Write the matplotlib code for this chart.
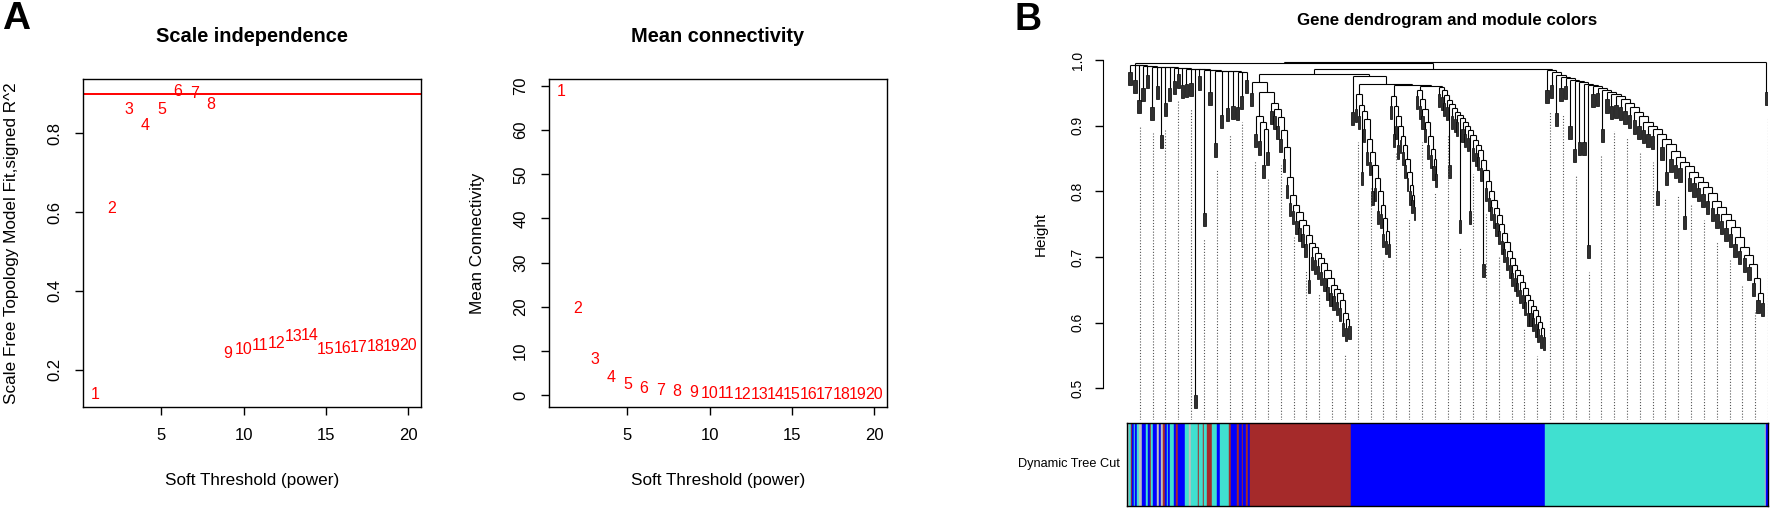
import matplotlib
matplotlib.use("Agg")
import matplotlib.pyplot as plt
from matplotlib.patches import Rectangle
import numpy as np

plt.rcParams["font.family"] = ["Liberation Sans", "DejaVu Sans"]

# ---------------- panel A: soft threshold scan ----------------
powers = list(range(1, 21))
sft_r2 = [0.136, 0.609, 0.861, 0.821, 0.860, 0.907, 0.901, 0.874, 0.242, 0.251,
          0.260, 0.267, 0.283, 0.287, 0.251, 0.253, 0.256, 0.258, 0.259, 0.262]
mean_k = [68.7, 19.5, 8.0, 4.0, 2.4, 1.5, 1.1, 0.75, 0.5, 0.35,
          0.25, 0.2, 0.15, 0.12, 0.1, 0.08, 0.06, 0.05, 0.04, 0.03]
r2_cut = 0.9

# ---------------- panel B: gene dendrogram (heights) ----------------
# staircase branches: join heights (top -> bottom) and the merge height of the
# small clusters hanging off each step, plus cluster sizes
mixed_joins = [0.993, 0.992, 0.992, 0.991, 0.991, 0.990, 0.990, 0.990, 0.989, 0.989,
               0.988, 0.988, 0.988, 0.987, 0.987, 0.986, 0.986, 0.985, 0.985, 0.984,
               0.984, 0.983, 0.983, 0.982, 0.981]
mixed_tails = [0.982, 0.970, 0.939, 0.957, 0.977, 0.929, 0.960, 0.886, 0.934, 0.957,
               0.968, 0.978, 0.962, 0.963, 0.965, 0.490, 0.975, 0.767, 0.952, 0.873,
               0.916, 0.927, 0.930, 0.929, 0.945, 0.970]
mixed_sizes = [6, 4, 4, 4, 4, 6, 4, 4, 4, 5, 4, 4, 4, 4, 5, 4, 4, 6, 5, 6, 6, 6, 5, 4, 4, 6]

brown_sub_joins = [0.914, 0.905, 0.895]
brown_sub_tails = [0.888, 0.876, 0.840, 0.860]
brown_joins = [0.935, 0.925, 0.913, 0.893, 0.867, 0.822, 0.794, 0.780, 0.768, 0.756,
               0.749, 0.733, 0.721, 0.715, 0.706, 0.698, 0.691, 0.680, 0.668, 0.657,
               0.652, 0.645, 0.634, 0.615, 0.605]
brown_tails = [0.922, 0.915, 0.900, 0.880, 0.850, 0.810, 0.782, 0.770, 0.755, 0.745,
               0.735, 0.720, 0.665, 0.700, 0.695, 0.686, 0.678, 0.668, 0.655, 0.645,
               0.640, 0.632, 0.622, 0.600, 0.592, 0.595]

blue_a_joins = [0.948, 0.932, 0.922, 0.910, 0.880, 0.860, 0.840, 0.820, 0.800, 0.780, 0.760, 0.740]
blue_a_tails = [0.925, 0.915, 0.830, 0.895, 0.860, 0.845, 0.800, 0.805, 0.770, 0.765, 0.735, 0.725, 0.720]
blue_b_joins = [0.945, 0.930, 0.915, 0.900, 0.885, 0.870, 0.850, 0.830, 0.810, 0.795]
blue_b_tails = [0.930, 0.888, 0.900, 0.870, 0.878, 0.860, 0.840, 0.820, 0.800, 0.787, 0.776]
blue_c_joins = [0.955, 0.940, 0.925, 0.905, 0.885, 0.865, 0.850]
blue_c_tails = [0.945, 0.930, 0.915, 0.895, 0.870, 0.855, 0.838, 0.827]
blue_d_joins = [0.959, 0.955, 0.947, 0.939, 0.933, 0.927, 0.921, 0.916, 0.912, 0.906,
                0.900, 0.893, 0.886, 0.878, 0.870, 0.863, 0.848, 0.832, 0.816, 0.800,
                0.787, 0.775, 0.764, 0.750, 0.736, 0.723, 0.710, 0.699, 0.688, 0.680,
                0.672, 0.662, 0.653, 0.643, 0.634, 0.626, 0.619, 0.610, 0.601, 0.592]
blue_d_tails = [0.948, 0.944, 0.935, 0.928, 0.840, 0.915, 0.910, 0.905, 0.756, 0.895,
                0.888, 0.882, 0.770, 0.866, 0.858, 0.852, 0.836, 0.690, 0.805, 0.790,
                0.776, 0.765, 0.752, 0.740, 0.725, 0.712, 0.700, 0.688, 0.676, 0.668,
                0.660, 0.650, 0.642, 0.632, 0.615, 0.615, 0.608, 0.598, 0.590, 0.582, 0.578]

turq_joins = [0.985, 0.981, 0.977, 0.974, 0.972, 0.970, 0.968, 0.966, 0.964, 0.962,
              0.960, 0.958, 0.955, 0.951, 0.948, 0.945, 0.940, 0.935, 0.928, 0.921,
              0.914, 0.906, 0.900, 0.895, 0.888, 0.880, 0.872, 0.862, 0.852, 0.845,
              0.838, 0.830, 0.822, 0.815, 0.807, 0.797, 0.786, 0.776, 0.766, 0.756,
              0.746, 0.731, 0.716, 0.703, 0.690, 0.668, 0.645]
turq_tails = [0.954, 0.962, 0.920, 0.958, 0.960, 0.900, 0.865, 0.875, 0.875, 0.718,
              0.948, 0.950, 0.895, 0.940, 0.930, 0.932, 0.928, 0.922, 0.916, 0.908,
              0.900, 0.894, 0.888, 0.884, 0.800, 0.868, 0.830, 0.850, 0.840, 0.835,
              0.762, 0.820, 0.812, 0.805, 0.796, 0.785, 0.775, 0.765, 0.755, 0.745,
              0.735, 0.720, 0.710, 0.698, 0.685, 0.660, 0.635, 0.630]

# module colour bar (Dynamic Tree Cut)
mixed_stripe_colors = ["blue", "grey", "turquoise", "brown", "blue", "turquoise", "blue",
                       "turquoise", "grey", "blue", "turquoise", "blue", "brown", "turquoise",
                       "blue", "grey", "blue", "grey", "brown", "blue", "turquoise", "blue",
                       "turquoise", "blue", "brown", "blue", "turquoise", "grey", "turquoise",
                       "brown", "turquoise", "brown", "turquoise", "brown", "turquoise", "blue",
                       "turquoise", "brown", "blue", "brown", "blue", "brown", "blue", "brown",
                       "blue"]
mixed_stripe_counts = [3, 4, 4, 4, 6, 4, 6, 5, 10, 13, 4, 6, 4, 6, 12, 6, 6, 6, 6, 6, 5, 5,
                       12, 6, 6, 21, 15, 5, 20, 5, 10, 5, 10, 13, 17, 7, 30, 4, 19, 5, 10, 5,
                       7, 6, 6]
module_hex = {"blue": "#0000FF", "turquoise": "#40E0D0", "brown": "#A52A2A", "grey": "#BEBEBE"}


def stair(joins, tails, sizes):
    sizes = np.broadcast_to(np.asarray(sizes, dtype=float), (len(tails),))
    node = (tails[-1], sizes[-1])
    for h, b, s in zip(joins[::-1], tails[-2::-1], sizes[-2::-1]):
        node = [h, (b, s), node]
    return node


def n_slots(node):
    if isinstance(node, tuple):
        return node[1]
    return sum(n_slots(c) for c in node[1:])


mixed = stair(mixed_joins, mixed_tails, mixed_sizes)
brown = [0.966, (0.950, 4), [0.951, stair(brown_sub_joins, brown_sub_tails, 4),
                              stair(brown_joins, brown_tails, 3.1)]]
blue = [0.975, (0.921, 4), [0.963, stair(blue_a_joins, blue_a_tails, 2.7),
                             [0.962, stair(blue_b_joins, blue_b_tails, 2.3),
                              [0.961, stair(blue_c_joins, blue_c_tails, 2.75),
                               stair(blue_d_joins, blue_d_tails, 2.6)]]]]
turq = stair(turq_joins, turq_tails, 4.56)
end = (0.952, 3)
tree = [0.997, [0.995, mixed, [0.986, [0.979, brown, blue], turq]], end]

regions = [mixed, brown, blue, turq, end]
region_colors = [mixed_stripe_colors, ["brown"], ["blue"], ["turquoise"], ["grey", "blue"]]
region_counts = [mixed_stripe_counts, [1], [1], [1], [1, 1]]

W, H = 1772, 509
fig = plt.figure(figsize=(W / 100, H / 100), dpi=100)


def px_axes(left, top, right, bottom):
    return fig.add_axes([left / W, 1 - bottom / H, (right - left) / W, (bottom - top) / H])


def px_text(x, y, s, **kw):
    fig.text(x / W, 1 - y / H, s, **kw)


# ---------------- panel A ----------------
def threshold_panel(ax, values, ylim, yticks, yticklabels):
    ax.set_xlim(0.24, 20.76)
    ax.set_ylim(*ylim)
    for p, v in zip(powers, values):
        ax.text(p, v, str(p), color="red", ha="center", va="center", fontsize=11.5)
    ax.set_xticks([5, 10, 15, 20])
    ax.set_yticks(yticks)
    ax.set_yticklabels(yticklabels, rotation=90, va="center")
    ax.tick_params(direction="out", length=6, width=1, labelsize=12, pad=9)
    for s in ax.spines.values():
        s.set_linewidth(1.0)


ax1 = px_axes(83, 79, 421, 407)
threshold_panel(ax1, sft_r2, (0.105, 0.938), [0.2, 0.4, 0.6, 0.8], ["0.2", "0.4", "0.6", "0.8"])
ax1.axhline(r2_cut, color="red", lw=1.4)
px_text(252, 37, "Scale independence", ha="center", va="center", fontsize=14.4, fontweight="bold")
px_text(252, 480, "Soft Threshold (power)", ha="center", va="center", fontsize=12.3)
px_text(12, 243, "Scale Free Topology Model Fit,signed R^2", ha="center", va="center",
        rotation=90, fontsize=12.3)

ax2 = px_axes(549, 79, 887, 407)
threshold_panel(ax2, mean_k, (-2.72, 71.6), list(range(0, 71, 10)), [str(v) for v in range(0, 71, 10)])
px_text(718, 37, "Mean connectivity", ha="center", va="center", fontsize=14.4, fontweight="bold")
px_text(718, 480, "Soft Threshold (power)", ha="center", va="center", fontsize=12.3)
px_text(478, 243, "Mean Connectivity", ha="center", va="center", rotation=90, fontsize=12.3)

px_text(2, 19, "A", ha="left", va="center", fontsize=28, fontweight="bold")
px_text(1014, 20, "B", ha="left", va="center", fontsize=27, fontweight="bold")

# ---------------- panel B: dendrogram ----------------
hang = 0.02
N = n_slots(tree)
axd = px_axes(1127, 55, 1768, 420)
axd.set_xlim(0, N)
axd.set_ylim(0.452, 1.0076)
leaves = []


def draw(node, cursor):
    if isinstance(node, tuple):
        b, w = node
        x = cursor[0] + w / 2
        leaves.append((cursor[0], cursor[0] + w, b))
        cursor[0] += w
        sw = min(w * 0.8, 3.4)
        axd.add_patch(Rectangle((x - sw / 2, b - hang), sw, hang, facecolor="#303030",
                                edgecolor="black", lw=0.5))
        return x, b
    h = node[0]
    xs = []
    for child in node[1:]:
        cx, ctop = draw(child, cursor)
        axd.plot([cx, cx], [ctop, h], color="black", lw=0.8, solid_capstyle="butt")
        xs.append(cx)
    axd.plot([xs[0], xs[-1]], [h, h], color="black", lw=0.8, solid_capstyle="butt")
    return (xs[0] + xs[-1]) / 2, h


draw(tree, [0.0])

# guide lines from the leaves down to the colour bar
for k in range(1, 51):
    gx = N * k / 50
    b = [lf[2] for lf in leaves if lf[0] <= gx + 1e-9][-1]
    axd.plot([gx, gx], [0.452, b - hang - 0.02], color="#555555", lw=0.8, ls=(0, (1, 1.6)))

for side in ["top", "right", "bottom"]:
    axd.spines[side].set_visible(False)
axd.spines["left"].set_position(("outward", 17.5))
axd.spines["left"].set_bounds(0.5, 1.0)
axd.set_xticks([])
axd.set_yticks([0.5, 0.6, 0.7, 0.8, 0.9, 1.0])
axd.set_yticklabels(["0.5", "0.6", "0.7", "0.8", "0.9", "1.0"], rotation=90, va="center")
axd.tick_params(direction="out", length=6, width=1, labelsize=10, pad=7)
px_text(1041, 234, "Height", ha="center", va="center", rotation=90, fontsize=11)
px_text(1447, 21, "Gene dendrogram and module colors", ha="center", va="center",
        fontsize=12.2, fontweight="bold")

# colour bar
axc = px_axes(1127, 423, 1768, 506)
axc.set_xlim(0, N)
axc.set_ylim(0, 1)
start = 0.0
for node, cols, cnts in zip(regions, region_colors, region_counts):
    width = n_slots(node)
    cnts = np.asarray(cnts, dtype=float)
    edges = start + np.concatenate([[0], np.cumsum(cnts)]) / cnts.sum() * width
    for c, x0, x1 in zip(cols, edges[:-1], edges[1:]):
        axc.bar(x0, 1, width=x1 - x0, align="edge", color=module_hex[c],
                edgecolor=module_hex[c], lw=0.3)
    start += width
axc.set_xticks([])
axc.set_yticks([])
for s in axc.spines.values():
    s.set_linewidth(1.0)
px_text(1120, 464, "Dynamic Tree Cut", ha="right", va="center", fontsize=9.2)

fig.savefig("out.png", dpi=100)
